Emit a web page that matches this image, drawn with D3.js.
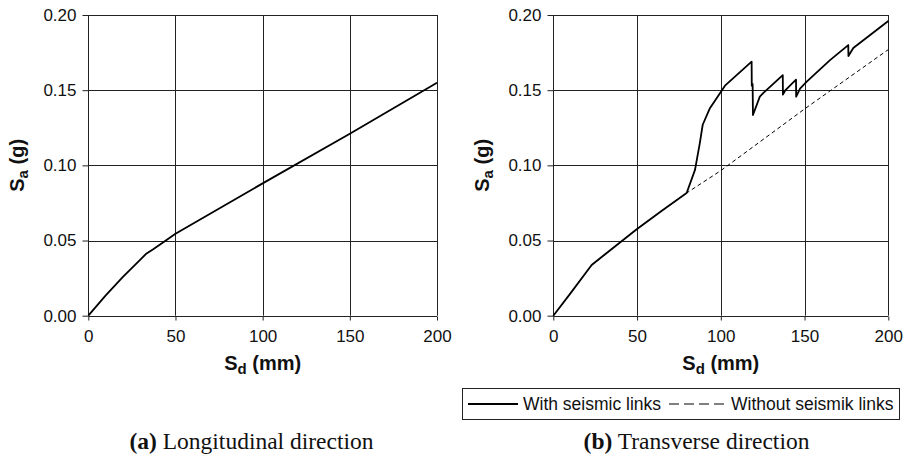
<!DOCTYPE html>
<html>
<head>
<meta charset="utf-8">
<script src="https://cdn.jsdelivr.net/npm/d3@7"></script>
<style>
  body { margin: 0; background: #fff; }
  svg { display: block; }
</style>
</head>
<body>
<div id="draw"></div>
<script>
// axis ticks shared by both panels
var xTicks = [0, 50, 100, 150, 200];
var yTicks = [0, 0.05, 0.10, 0.15, 0.20];

// (a) longitudinal direction
var longSd = [0, 10, 20, 30, 33, 37, 42, 50, 100, 150, 200];
var longSa = [0, 0.0135, 0.026, 0.0375, 0.041, 0.044, 0.048, 0.0545, 0.088, 0.121, 0.155];

// (b) transverse direction, with seismic links
var linkSd = [0, 10, 22.9, 30, 49.8, 65, 79.6, 84.6, 87.5, 89.2, 93.5, 99.5, 102.5, 118.4, 118.5, 119.0, 119.2,
  123.3, 125.3, 137, 137.1, 138.6, 144.9, 145.0, 147.3, 151.3, 165.2, 176.1, 176.2, 179.1, 200];
var linkSa = [0, 0.0145, 0.0337, 0.040, 0.0575, 0.070, 0.0816, 0.097, 0.115, 0.127, 0.138, 0.148, 0.153, 0.169, 0.153, 0.154, 0.1335,
  0.1457, 0.148, 0.160, 0.147, 0.150, 0.157, 0.1457, 0.151, 0.1557, 0.170, 0.180, 0.1727, 0.178, 0.196];

// (b) transverse direction, without seismic links
var noLinkSd = [0, 10, 22.9, 30, 49.8, 65, 79.6, 100, 150, 200];
var noLinkSa = [0, 0.0145, 0.0337, 0.040, 0.0575, 0.070, 0.0816, 0.0965, 0.1375, 0.177];

var legendLabels = ['With seismic links', 'Without seismik links'];
var captions = [['(a)', ' Longitudinal direction'], ['(b)', ' Transverse direction']];

var W = 913, H = 457;
var sans = '"Liberation Sans", Arial, sans-serif';
var serif = '"Liberation Serif", "Times New Roman", serif';

var svg = d3.select('#draw').append('svg').attr('width', W).attr('height', H);

function zip(xs, ys) { return xs.map(function(x, i){ return [x, ys[i]]; }); }

function subLabel(t, main, sub, rest) {
  t.append('tspan').text(main);
  t.append('tspan').attr('font-size', 15).attr('dy', 4).text(sub);
  t.append('tspan').attr('dy', -4).text(rest);
}

function panel(left, right, top, bottom, series) {
  var x = d3.scaleLinear().domain([0, 200]).range([left, right]);
  var y = d3.scaleLinear().domain([0, 0.2]).range([bottom, top]);
  var g = svg.append('g');

  // grid
  g.selectAll('.vg').data(xTicks).enter().append('line')
    .attr('x1', function(d){ return Math.round(x(d)) + 0.5; })
    .attr('x2', function(d){ return Math.round(x(d)) + 0.5; })
    .attr('y1', top).attr('y2', bottom)
    .attr('stroke', '#222').attr('stroke-width', 1);
  g.selectAll('.hg').data(yTicks).enter().append('line')
    .attr('y1', function(d){ return Math.round(y(d)) + 0.5; })
    .attr('y2', function(d){ return Math.round(y(d)) + 0.5; })
    .attr('x1', left).attr('x2', right)
    .attr('stroke', '#222').attr('stroke-width', 1);

  // axes
  var xa = g.append('g').attr('transform', 'translate(0,' + (Math.round(bottom) + 0.5) + ')')
    .call(d3.axisBottom(x).tickValues(xTicks).tickSize(4).tickPadding(9).tickFormat(d3.format('d')));
  var ya = g.append('g').attr('transform', 'translate(' + (Math.round(left) + 0.5) + ',0)')
    .call(d3.axisLeft(y).tickValues(yTicks).tickSize(6).tickPadding(6).tickFormat(d3.format('.2f')));
  [xa, ya].forEach(function(a){
    a.select('.domain').remove();
    a.selectAll('line').attr('stroke', '#222');
    a.selectAll('text').attr('font-family', sans).attr('font-size', 17).attr('fill', '#111');
  });

  // axis titles
  var xt = g.append('text').attr('x', (left + right) / 2).attr('y', bottom + 54.5)
    .attr('text-anchor', 'middle').attr('font-family', sans).attr('font-size', 20)
    .attr('font-weight', 'bold').attr('fill', '#111');
  subLabel(xt, 'S', 'd', ' (mm)');

  var yt = g.append('text')
    .attr('transform', 'translate(' + (left - 64) + ',' + ((top + bottom) / 2) + ') rotate(-90)')
    .attr('text-anchor', 'middle').attr('font-family', sans).attr('font-size', 20)
    .attr('font-weight', 'bold').attr('fill', '#111');
  subLabel(yt, 'S', 'a', ' (g)');

  var line = d3.line().x(function(d){ return x(d[0]); }).y(function(d){ return y(d[1]); });
  series.forEach(function(s){
    g.append('path').datum(s.pts).attr('d', line)
      .attr('fill', 'none').attr('stroke', '#000')
      .attr('stroke-width', s.w).attr('stroke-dasharray', s.dash || null)
      .attr('stroke-linejoin', 'round');
  });
}

panel(88.3, 437, 15, 315.7, [
  { pts: zip(longSd, longSa), w: 1.8 }
]);
panel(553.3, 888.3, 15, 315.7, [
  { pts: zip(noLinkSd, noLinkSa), w: 1, dash: '4,3' },
  { pts: zip(linkSd, linkSa), w: 1.8 }
]);

// legend
var lg = svg.append('g');
lg.append('rect').attr('x', 462.5).attr('y', 388.5).attr('width', 437).attr('height', 31)
  .attr('fill', '#fff').attr('stroke', '#222').attr('stroke-width', 1);
lg.append('line').attr('x1', 468).attr('x2', 518).attr('y1', 404).attr('y2', 404)
  .attr('stroke', '#000').attr('stroke-width', 1.8);
lg.append('text').attr('x', 523).attr('y', 409.5).text(legendLabels[0])
  .attr('font-family', sans).attr('font-size', 17.5).attr('fill', '#111');
lg.append('line').attr('x1', 669).attr('x2', 727).attr('y1', 404).attr('y2', 404)
  .attr('stroke', '#000').attr('stroke-width', 1).attr('stroke-dasharray', '10,5');
lg.append('text').attr('x', 731).attr('y', 409.5).text(legendLabels[1])
  .attr('font-family', sans).attr('font-size', 17.5).attr('fill', '#111');

// captions
[251.5, 696.5].forEach(function(cx, i){
  var t = svg.append('text').attr('x', cx).attr('y', 448.5).attr('text-anchor', 'middle')
    .attr('font-family', serif).attr('font-size', 23.5).attr('fill', '#111');
  t.append('tspan').attr('font-weight', 'bold').text(captions[i][0]);
  t.append('tspan').text(captions[i][1]);
});
</script>
</body>
</html>
